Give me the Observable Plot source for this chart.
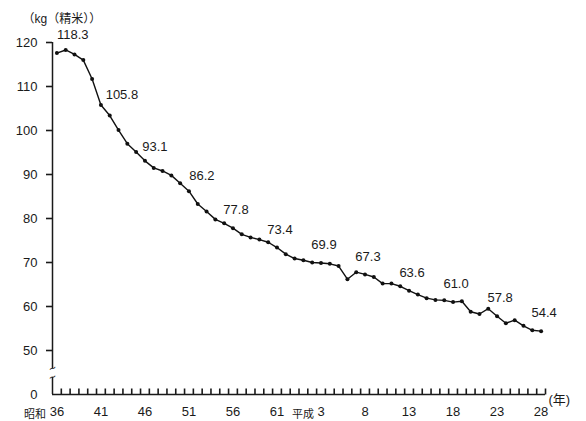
<!DOCTYPE html>
<html><head><meta charset="utf-8">
<script src="https://cdn.jsdelivr.net/npm/d3@7"></script>
<script src="https://cdn.jsdelivr.net/npm/@observablehq/plot@0.6"></script>
<style>body{margin:0;background:#fff;overflow:hidden}</style>
</head><body><div id="chart"></div>
<script>
const years = [1961,1962,1963,1964,1965,1966,1967,1968,1969,1970,
  1971,1972,1973,1974,1975,1976,1977,1978,1979,1980,
  1981,1982,1983,1984,1985,1986,1987,1988,1989,1990,
  1991,1992,1993,1994,1995,1996,1997,1998,1999,2000,
  2001,2002,2003,2004,2005,2006,2007,2008,2009,2010,
  2011,2012,2013,2014,2015,2016];
const values = [117.6,118.3,117.3,116.0,111.7,105.8,103.4,100.1,97.0,95.1,
  93.1,91.5,90.8,89.8,88.0,86.2,83.3,81.6,79.8,78.9,
  77.8,76.4,75.7,75.2,74.6,73.4,71.9,70.9,70.5,70.0,
  69.9,69.7,69.2,66.2,67.8,67.3,66.7,65.2,65.2,64.6,
  63.6,62.7,61.9,61.5,61.4,61.0,61.2,58.8,58.3,59.5,
  57.8,56.2,56.9,55.6,54.6,54.4];
const labelYears = [1962,1966,1971,1976,1981,1986,1991,1996,2001,2006,2011,2016];
const xTickYears = [1961,1966,1971,1976,1981,1986,1991,1996,2001,2006,2011,2016];
const xTickLabels = ["36","41","46","51","56","61","3","8","13","18","23","28"];
const eraYears = [1961,1991];
const eraLabels = ["昭和","平成"];
const yTicks = [50,60,70,80,90,100,110,120];
const yZero = 40;          // position where the broken axis shows "0"
const yTop = 120;
const yBreak = [43.9,45.9]; // gap in the axis (break)
const unitLabel = "（kg（精米））";
const yearUnit = "(年)";

const W = 586, H = 421, mT = 42, mB = 27, mL = 52, mR = 41;
const tickPx = 6;
const tickUnits = tickPx * (yTop - yZero) / (H - mT - mB);

const data = years.map((y,i)=>({year:y, value:values[i]}));
const byYear = new Map(data.map(d=>[d.year,d]));
const boundaries = years.map(y=>({b:y+0.5}));

const font = "'Liberation Sans', Arial, 'Noto Sans CJK JP', sans-serif";
const ink = "#1a1a1a";

const labelOffset = y => ({1962:[7,-15],1966:[21,-10],1971:[10,-14],1976:[13,-15]}[y] || [3,-18]);

const labelMarks = labelYears.map(y => {
  const [dx,dy] = labelOffset(y);
  return Plot.text([byYear.get(y)], {x:"year", y:"value", text:d=>d3.format(".1f")(d.value),
    dx, dy, fontSize:13, fill:ink});
});

const chart = Plot.plot({
  width:W, height:H,
  marginLeft:mL, marginRight:mR, marginTop:mT, marginBottom:mB,
  style:{fontFamily:font, background:"#fff", color:ink, overflow:"visible"},
  x:{domain:[1960.5,2016.5], axis:null},
  y:{domain:[yZero,yTop], axis:null},
  marks:[
    // y axis line with break
    Plot.ruleX([1960.5], {y1:yZero, y2:yBreak[0], stroke:ink, strokeWidth:1.5}),
    Plot.ruleX([1960.5], {y1:yBreak[1], y2:yTop, stroke:ink, strokeWidth:1.5}),
    Plot.text(["~","~"], {x:[1960.5,1960.5], y:[yBreak[1], yBreak[0]], fontSize:12, fill:ink, rotate:-25}),
    // x axis line and upward ticks
    Plot.ruleY([yZero], {stroke:ink, strokeWidth:1.5}),
    Plot.link(boundaries, {x1:"b", x2:"b", y1:()=>yZero, y2:()=>yZero + tickUnits, stroke:ink, strokeWidth:1.6}),
    Plot.axisY({ticks:yTicks, tickSize:6, tickPadding:9, fontSize:13, label:null, tickFormat:d=>d, stroke:ink, strokeWidth:1.6}),
    Plot.axisY({ticks:[yZero], tickSize:0, tickPadding:15, fontSize:13, label:null, tickFormat:()=>"0"}),
    Plot.axisX({ticks:xTickYears, tickSize:0, tickPadding:12, fontSize:13, label:null, tickFormat:d=>xTickLabels[xTickYears.indexOf(d)]}),
    Plot.text([eraLabels[0]], {x:[eraYears[0]], frameAnchor:"bottom", lineAnchor:"middle", dy:20, dx:-11, textAnchor:"end", fontSize:11, fill:ink}),
    Plot.text([eraLabels[1]], {x:[eraYears[1]], frameAnchor:"bottom", lineAnchor:"middle", dy:20, dx:-7, textAnchor:"end", fontSize:11, fill:ink}),
    Plot.text([unitLabel], {frameAnchor:"top-left", lineAnchor:"middle", dx:-30, dy:-23, textAnchor:"start", fontSize:12, fill:ink}),
    Plot.text([yearUnit], {frameAnchor:"bottom-right", lineAnchor:"middle", dx:3, dy:5, textAnchor:"start", fontSize:13, fill:ink}),
    Plot.line(data, {x:"year", y:"value", stroke:"#111", strokeWidth:1.4}),
    Plot.dot(data, {x:"year", y:"value", r:2, fill:"#111"}),
    ...labelMarks
  ]
});
document.getElementById("chart").appendChild(chart);
</script>
</body></html>
